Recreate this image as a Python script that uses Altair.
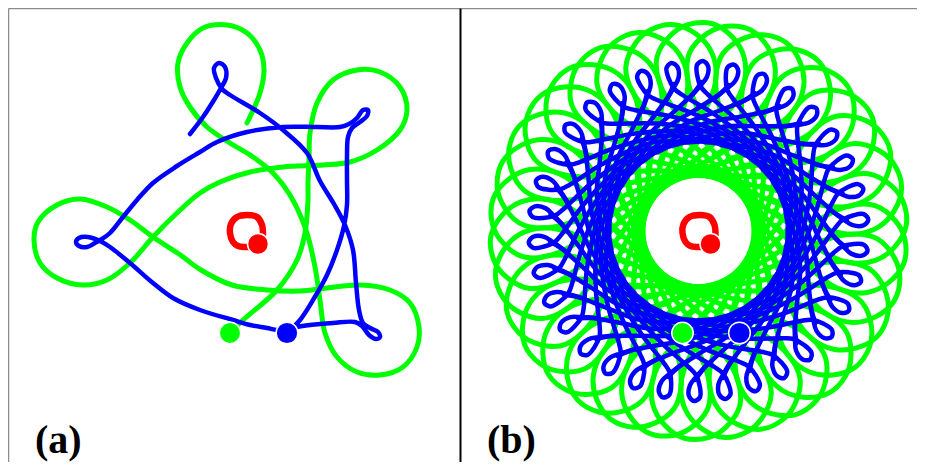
import altair as alt
import numpy as np
import pandas as pd

GREEN = "#00ff00"
BLUE = "#0000ff"
RED = "#ff0000"

# Orbit coordinates, centred on the red ring, y upwards.
green_path = [
    (1, 108), (14, 138), (18, 161), (14, 181), (1, 198), (-19, 206), (-43, 203), (-59, 188),
    (-68, 168), (-66, 144), (-56, 124), (-39, 104), (-16, 88), (7, 74), (27, 58), (44, 36),
    (60, 1), (69, -36), (74, -69), (79, -102), (91, -126), (111, -141), (134, -144), (157, -136),
    (171, -116), (173, -96), (164, -72), (144, -59), (114, -54), (81, -57), (54, -60), (21, -59),
    (-14, -54), (-45, -39), (-67, -23), (-93, -6), (-116, 11), (-139, 24), (-166, 32), (-189, 26),
    (-208, 9), (-212, -9), (-206, -32), (-189, -47), (-163, -54), (-139, -49), (-116, -32), (-93, -6),
    (-69, 18), (-46, 38), (-26, 49), (4, 59), (37, 64), (77, 66), (104, 69), (131, 81),
    (154, 101), (161, 121), (154, 144), (134, 159), (111, 161), (87, 151), (71, 128), (64, 98),
    (63, 71), (62, 48), (62, 31), (59, -2), (51, -29), (31, -59), (-3, -89), (-16, -102),
]
blue_path = [
    (-56, 97), (-43, 114), (-32, 131), (-25, 143), (-20, 153), (-21, 164), (-27, 168), (-32, 163),
    (-30, 153), (-24, 142), (-16, 136), (14, 118), (37, 101), (61, 78), (74, 50), (88, 27),
    (99, 6), (107, -19), (110, -52), (113, -79), (117, -92), (124, -97), (132, -101), (134, -106),
    (130, -108), (123, -104), (116, -95), (109, -91), (87, -92), (64, -94), (51, -96), (41, -99),
    (31, -99), (21, -97), (4, -94), (-13, -89), (-46, -79), (-73, -67), (-93, -52), (-116, -32),
    (-136, -16), (-146, -10), (-158, -6), (-167, -7), (-170, -11), (-167, -15), (-159, -16), (-151, -12),
    (-144, -8), (-136, -2), (-123, 14), (-109, 31), (-93, 48), (-69, 65), (-46, 79), (-29, 89),
    (1, 99), (37, 104), (71, 104), (94, 104), (103, 107), (111, 113), (117, 121), (122, 121),
    (121, 115), (114, 109), (106, 103), (102, 94), (101, 74), (101, 51), (101, 26), (98, 5),
    (91, -19), (81, -44), (67, -69), (54, -89), (41, -102),
]
red_ring = [
    (17, -4), (16, 6), (11, 14), (1, 16), (-9, 14), (-15, 7), (-16, -2),
    (-13, -11), (-8, -15), (-1, -16), (4, -16),
]
body_x = [-16, 41, 12]
body_y = [-102, -102, -13]
body_color = [GREEN, BLUE, RED]
body_size = [460, 470, 440]
labels = ["(a)", "(b)"]

# Panel (b): the same orbit run longer; one loop-to-loop stretch of each
# path from (a), repeated at each of the loop positions counted round (b).
loop_count = 34
green_motif = green_path[17:36]
blue_motif = blue_path[2:21]


def path_df(points):
    return pd.DataFrame({
        "x": [p[0] for p in points],
        "y": [p[1] for p in points],
        "i": list(range(len(points))),
        "seg": 0,
    })


def rosette_df(points):
    pts = np.array(points, dtype=float)
    frames = []
    for k in range(loop_count):
        a = 2 * np.pi * k / loop_count
        c, s = np.cos(a), np.sin(a)
        frames.append(pd.DataFrame({
            "x": pts[:, 0] * c - pts[:, 1] * s,
            "y": pts[:, 0] * s + pts[:, 1] * c,
            "i": np.arange(len(pts)),
            "seg": k,
        }))
    return pd.concat(frames, ignore_index=True)


bodies = pd.DataFrame({"x": body_x, "y": body_y, "c": body_color, "s": body_size})
Y_DOMAIN = [-231, 223]
HEIGHT = 454


def panel(green_df, blue_df, label, xdom, width, left_color, left_width):
    xs = alt.Scale(domain=xdom, nice=False, zero=False)
    ys = alt.Scale(domain=Y_DOMAIN, nice=False, zero=False)
    xa = alt.Axis(orient="top", domain=True, domainColor="#8c8c8c", domainWidth=1.5,
                  ticks=False, labels=False, grid=False, title=None, minExtent=0)
    ya = alt.Axis(orient="left", domain=True, domainColor=left_color, domainWidth=left_width,
                  ticks=False, labels=False, grid=False, title=None, minExtent=0)
    X = alt.X("x:Q", scale=xs, axis=xa)
    Y = alt.Y("y:Q", scale=ys, axis=ya)

    def line(df, color, w):
        return alt.Chart(df).mark_line(
            color=color, strokeWidth=w, interpolate="catmull-rom",
            strokeCap="round", strokeJoin="round",
        ).encode(x=X, y=Y, detail="seg:N", order="i:Q")

    g = line(green_df, GREEN, 5)
    b = line(blue_df, BLUE, 4.5)
    r = line(path_df(red_ring), RED, 6.5)
    dots = alt.Chart(bodies).mark_point(
        shape="circle", filled=True, opacity=1, stroke="white", strokeWidth=1.5,
    ).encode(
        x=X, y=Y,
        fill=alt.Fill("c:N", scale=None),
        size=alt.Size("s:Q", scale=None),
    )
    txt = alt.Chart(pd.DataFrame({"t": [label]})).mark_text(
        font="Liberation Serif", fontSize=40, fontWeight="bold",
        align="left", baseline="alphabetic", color="black",
    ).encode(x=alt.value(27), y=alt.value(445), text="t:N")
    return alt.layer(g, b, r, dots, txt).properties(width=width, height=HEIGHT)


pa = panel(path_df(green_path), path_df(blue_path), labels[0], [-238, 214], 452, "#8c8c8c", 1.5)
pb = panel(rosette_df(green_motif), rosette_df(blue_motif), labels[1], [-238.5, 218.5], 457, "#000000", 2)

chart = alt.hconcat(pa, pb, spacing=0, padding=0).configure_view(strokeWidth=0)
chart.save("out.html", embed_options={"renderer": "svg", "actions": False})
